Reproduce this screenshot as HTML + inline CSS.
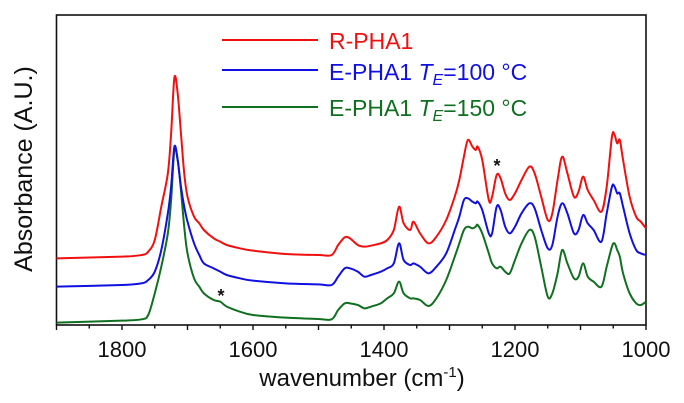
<!DOCTYPE html>
<html><head><meta charset="utf-8"><style>
html,body{margin:0;padding:0;background:#fff;}
svg{display:block;font-family:"Liberation Sans",Arial,sans-serif;}
</style></head><body>
<svg id="chart" width="684" height="403" viewBox="0 0 684 403">
<rect x="56.5" y="15" width="589.5" height="310" fill="none" stroke="#111" stroke-width="1.6"/>
<g id="xticks"></g>
<g id="series"></g>
<text x="362" y="386" font-size="24" text-anchor="middle" fill="#111">wavenumber (cm<tspan font-size="15" dy="-9">-1</tspan><tspan dy="9">)</tspan></text>
<text transform="translate(32,169) rotate(-90)" font-size="25" text-anchor="middle" fill="#111">Absorbance (A.U.)</text>
<g>
<g><line x1="222" y1="40" x2="318" y2="40" stroke="#f01010" stroke-width="2"/><text x="329" y="49" font-size="23" fill="#f01010">R-PHA1</text></g>
<g><line x1="222" y1="70" x2="318" y2="70" stroke="#1010e0" stroke-width="2"/><text x="329" y="80" font-size="23" fill="#1010e0">E-PHA1 <tspan font-style="italic">T</tspan><tspan font-style="italic" font-size="16" dy="5">E</tspan><tspan dy="-5">=100 °C</tspan></text></g>
<g><line x1="222" y1="107" x2="318" y2="107" stroke="#107020" stroke-width="2"/><text x="329" y="116" font-size="23" fill="#107020">E-PHA1 <tspan font-style="italic">T</tspan><tspan font-style="italic" font-size="16" dy="5">E</tspan><tspan dy="-5">=150 °C</tspan></text></g>
</g>
<text x="497" y="172" font-size="18" font-weight="bold" text-anchor="middle" fill="#111">*</text>
<text x="221" y="302" font-size="18" font-weight="bold" text-anchor="middle" fill="#111">*</text>
</svg>
<script>
const wavenumbers = [1900,1800,1770,1760,1750,1740,1730,1725,1720,1715,1710,1705,1700,1690,1682,1675,1660,1650,1640,1620,1600,1550,1500,1480,1470,1460,1452,1440,1430,1420,1405,1395,1385,1377,1370,1360,1355,1345,1332,1320,1305,1292,1285,1278,1272,1265,1260,1257,1250,1240,1235,1228,1222,1215,1208,1200,1190,1178,1170,1160,1150,1143,1135,1128,1120,1110,1103,1096,1089,1080,1068,1060,1052,1048,1044,1040,1035,1025,1015,1008,1000];
const redValues = [200,205,210,220,255,355,455,575,742,695,575,455,385,325,305,285,260,250,240,230,223,213,210,210,240,263,260,240,235,238,245,255,285,355,305,285,310,275,245,265,315,385,435,505,555,535,525,535,495,375,385,450,440,395,375,395,435,475,455,385,315,335,435,505,455,385,400,445,405,375,340,415,565,570,545,555,495,385,325,310,290];
const blueValues = [115,120,125,135,160,225,335,415,535,495,415,355,310,245,210,185,170,160,150,140,133,125,122,120,145,170,170,160,145,150,160,170,185,245,195,180,185,175,155,175,215,285,325,375,380,370,365,370,345,275,275,355,345,295,275,295,335,365,350,285,230,240,325,365,335,275,285,330,305,285,250,335,415,415,395,395,355,275,225,215,210];
const greenValues = [7,13,17,30,95,175,275,375,525,495,405,295,215,140,115,95,75,70,55,40,30,22,18,17,45,65,65,60,50,55,65,80,95,130,95,80,80,75,57,80,135,205,245,285,295,290,295,300,275,215,185,170,175,160,155,195,245,285,265,175,85,95,155,225,185,140,145,185,145,130,115,175,235,245,225,205,155,95,65,60,70];
const tickValues = [1900,1850,1800,1750,1700,1650,1600,1550,1500,1450,1400,1350,1300,1250,1200,1150,1100,1050,1000];
const tickLabels = ["1800","1600","1400","1200","1000"];

const X0=56.5, X1=646, Y0=325, Y1=15;
function xScale(w){return X0+(1900-w)/900*(X1-X0);}
function yScale(v){return Y0-v/930*(Y0-Y1);}
const NS="http://www.w3.org/2000/svg";
const tg=document.getElementById('xticks');
tickValues.forEach(function(t){
  const l=document.createElementNS(NS,'line');
  const x=xScale(t); const major=(t%100===0);
  l.setAttribute('x1',x);l.setAttribute('x2',x);l.setAttribute('y1',Y0);l.setAttribute('y2',Y0+(major?5:3.5));
  l.setAttribute('stroke','#111');l.setAttribute('stroke-width','1.4');
  
  
  tg.appendChild(l);
});
tickLabels.forEach(function(s){
  const t=document.createElementNS(NS,'text');
  t.setAttribute('x',xScale(+s));t.setAttribute('y',357);t.setAttribute('font-size','22');
  t.setAttribute('text-anchor','middle');t.setAttribute('fill','#111');t.textContent=s;
  
  
  tg.appendChild(t);
});
function pathFor(vals){
  const pts=wavenumbers.map(function(w,i){return [xScale(w),yScale(vals[i])];});
  let d='M'+pts[0][0].toFixed(2)+','+pts[0][1].toFixed(2);
  for(let i=0;i<pts.length-1;i++){
    const p0=pts[Math.max(0,i-1)],p1=pts[i],p2=pts[i+1],p3=pts[Math.min(pts.length-1,i+2)];
    const c1=[p1[0]+(p2[0]-p0[0])/6,p1[1]+(p2[1]-p0[1])/6];
    const c2=[p2[0]-(p3[0]-p1[0])/6,p2[1]-(p3[1]-p1[1])/6];
    d+='C'+c1[0].toFixed(2)+','+c1[1].toFixed(2)+' '+c2[0].toFixed(2)+','+c2[1].toFixed(2)+' '+p2[0].toFixed(2)+','+p2[1].toFixed(2);
  }
  return d;
}
const sg=document.getElementById('series');
[[greenValues,'#107020','series-e-pha1-150'],[blueValues,'#1010e0','series-e-pha1-100'],[redValues,'#f01010','series-r-pha1']].forEach(function(s){
  const p=document.createElementNS(NS,'path');
  p.setAttribute('d',pathFor(s[0]));p.setAttribute('fill','none');p.setAttribute('stroke',s[1]);
  p.setAttribute('stroke-width','2');p.setAttribute('stroke-linejoin','round');
  
  
  sg.appendChild(p);
});
</script>
</body></html>
